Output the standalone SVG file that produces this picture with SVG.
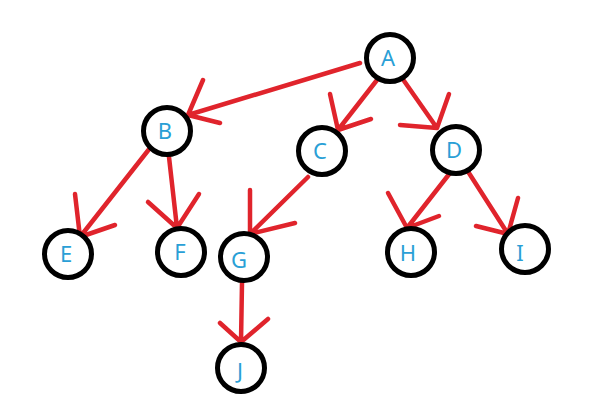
<svg xmlns="http://www.w3.org/2000/svg" width="596" height="416" viewBox="0 0 596 416">
<style>
.n circle{fill:#fff;stroke:#000;stroke-width:5}
.n text{font-family:"Noto Sans","Liberation Sans",sans-serif;font-size:22px;fill:#2a9fd6;text-anchor:middle;dominant-baseline:central}
#edges path{fill:none;stroke:#e0242c;stroke-width:4.5;stroke-linecap:round;stroke-linejoin:round}
</style>
<rect width="596" height="416" fill="#fff"/>
<g id="edges">
<path d="M360 63 L188 115 M203 80 L188 115 L220 123"/>
<path d="M377 80 L338 130 M330 94 L338 130 L371 119"/>
<path d="M402 78 L437 128 M449 94 L437 128 L400 125"/>
<path d="M150 148 L80 237 M75 194 L80 237 L115 225"/>
<path d="M169 157 L177 228 M148 202 L177 228 L199 194"/>
<path d="M308 177 L250 234 M250 190 L250 234 L295 223"/>
<path d="M242 283 L241 342 M220 323 L241 342 L268 319"/>
<path d="M450 173 L407 228 M388 193 L407 228 L439 216"/>
<path d="M467 170 L508 234 M518 198 L508 234 L476 226"/>
</g>
<g id="node-A" class="n"><circle cx="390" cy="58" r="23.5"/><text x="388" y="57">A</text></g>
<g id="node-B" class="n"><circle cx="167" cy="131" r="23.5"/><text x="165" y="130">B</text></g>
<g id="node-C" class="n"><circle cx="322" cy="151" r="23.5"/><text x="320" y="150">C</text></g>
<g id="node-D" class="n"><circle cx="456" cy="150" r="23.5"/><text x="454" y="149">D</text></g>
<g id="node-E" class="n"><circle cx="68" cy="254" r="23.5"/><text x="66" y="253">E</text></g>
<g id="node-F" class="n"><circle cx="181" cy="252" r="23.5"/><text x="180" y="251">F</text></g>
<g id="node-G" class="n"><circle cx="244" cy="257" r="23.5"/><text x="239" y="259">G</text></g>
<g id="node-H" class="n"><circle cx="411" cy="252" r="23.5"/><text x="408" y="252">H</text></g>
<g id="node-I" class="n"><circle cx="525" cy="249" r="23.5"/><text x="520" y="252">I</text></g>
<g id="node-J" class="n"><circle cx="241" cy="368" r="23.5"/><text x="240" y="370">J</text></g>
</svg>
